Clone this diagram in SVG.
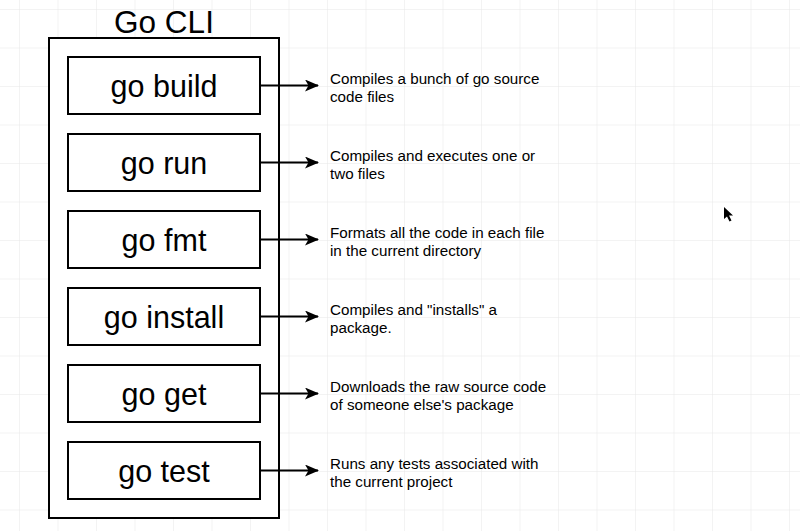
<svg xmlns="http://www.w3.org/2000/svg" width="800" height="531" viewBox="0 0 800 531">
<defs>
<pattern id="grid" x="19" y="9" width="38.5" height="38.5" patternUnits="userSpaceOnUse">
<path d="M0 0H38.5M0 0V38.5" fill="none" stroke="#e8e8e8" stroke-width="1"/>
</pattern>
<marker id="arr" markerWidth="14" markerHeight="12" refX="13" refY="6" orient="auto" markerUnits="userSpaceOnUse">
<path d="M0 0L14 6L0 12L3.5 6Z" fill="#000"/>
</marker>
<style>
.box{fill:#fff;stroke:#000;stroke-width:2}
.lbl{font-family:"Liberation Sans",Arial,sans-serif;font-size:30.5px;text-anchor:middle;fill:#000}
.desc{font-family:"Liberation Sans",Arial,sans-serif;font-size:15.2px;fill:#000}
.con{stroke:#000;stroke-width:2;fill:none}
</style>
</defs>
<rect width="800" height="531" fill="#fff"/>
<rect width="800" height="531" fill="url(#grid)"/>
<g id="gocli">
<rect class="box" x="49" y="38" width="230" height="480"/>
<text class="lbl" x="164" y="33" style="font-size:31.5px">Go CLI</text>
</g>
<g id="build"><rect class="box" x="68" y="57" width="192" height="57"/><text class="lbl" x="164" y="97">go build</text></g>
<g id="run"><rect class="box" x="68" y="134" width="192" height="57"/><text class="lbl" x="164" y="174">go run</text></g>
<g id="fmt"><rect class="box" x="68" y="211" width="192" height="57"/><text class="lbl" x="164" y="251">go fmt</text></g>
<g id="install"><rect class="box" x="68" y="288" width="192" height="57"/><text class="lbl" x="164" y="328">go install</text></g>
<g id="get"><rect class="box" x="68" y="365" width="192" height="57"/><text class="lbl" x="164" y="405">go get</text></g>
<g id="test"><rect class="box" x="68" y="442" width="192" height="57"/><text class="lbl" x="164" y="482">go test</text></g>
<g id="connectors">
<line class="con" x1="260" y1="85.5" x2="318" y2="85.5" marker-end="url(#arr)"/>
<line class="con" x1="260" y1="162.5" x2="318" y2="162.5" marker-end="url(#arr)"/>
<line class="con" x1="260" y1="239.5" x2="318" y2="239.5" marker-end="url(#arr)"/>
<line class="con" x1="260" y1="316.5" x2="318" y2="316.5" marker-end="url(#arr)"/>
<line class="con" x1="260" y1="393.5" x2="318" y2="393.5" marker-end="url(#arr)"/>
<line class="con" x1="260" y1="470.5" x2="318" y2="470.5" marker-end="url(#arr)"/>
</g>
<g id="descriptions">
<text class="desc" x="330" y="84">Compiles a bunch of go source</text>
<text class="desc" x="330" y="102">code files</text>
<text class="desc" x="330" y="161">Compiles and executes one or</text>
<text class="desc" x="330" y="179">two files</text>
<text class="desc" x="330" y="238">Formats all the code in each file</text>
<text class="desc" x="330" y="256">in the current directory</text>
<text class="desc" x="330" y="315">Compiles and "installs" a</text>
<text class="desc" x="330" y="333">package.</text>
<text class="desc" x="330" y="392">Downloads the raw source code</text>
<text class="desc" x="330" y="410">of someone else's package</text>
<text class="desc" x="330" y="469">Runs any tests associated with</text>
<text class="desc" x="330" y="487">the current project</text>
</g>
<path d="M724 207L724 219L727 216.5L729.5 221.5L731.5 220.5L729 215.5L733 215.5Z" fill="#000"/>
</svg>
